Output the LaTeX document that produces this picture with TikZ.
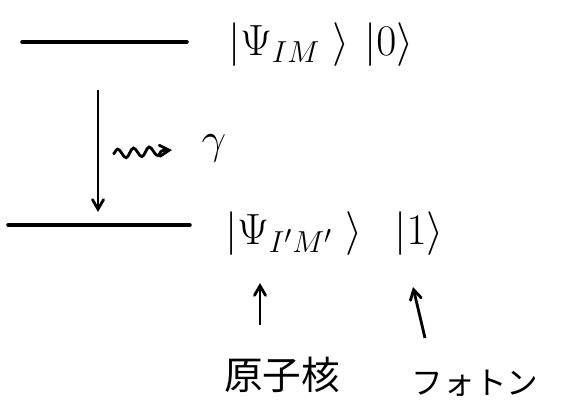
\documentclass[tikz,border=0pt]{standalone}
\usepackage{fontspec}
\usetikzlibrary{arrows}
\usetikzlibrary{decorations.pathmorphing}
\newfontfamily\jpfont{Noto Sans CJK JP}
\tikzset{
  lvl/.style = {line width=2pt, line cap=round},% energy level
  ket/.style = {inner sep=0pt, font=\fontsize{27}{32}\selectfont},
  jp_label/.style = {inner sep=0pt, font=\jpfont\fontsize{22}{26}\selectfont},
  down_arr/.style = {->, line width=1.6pt},
  photon/.style = {->, line width=1.6pt, decorate,
    decoration={snake, amplitude=2.6pt, segment length=9pt, post length=5pt}},% gamma emission
}
\begin{document}
\begin{tikzpicture}[>=angle 60, x=0.02cm, y=-0.02cm]
\useasboundingbox (0,0) rectangle (582,406);
% levels
\coordinate (top_l) at (22,42);
\coordinate (top_r) at (187,42);
\coordinate (bot_l) at (8,225);
\coordinate (bot_r) at (190,225);
\draw[lvl] (top_l) -- (top_r);
\draw[lvl] (bot_l) -- (bot_r);
% states
\node [ket, anchor=west] (psi_ini) at (228,45) {$|\Psi_{IM}\;\rangle$};
\node [ket, anchor=west] (ph_ini) at ([xshift=8]psi_ini.east) {$|0\rangle$};
\node [ket, anchor=west] (psi_fin) at (225,234) {$|\Psi_{I'M'}\;\rangle$};
\node [ket, anchor=west] (ph_fin) at ([xshift=18]psi_fin.east) {$|1\rangle$};
\node [ket, font=\fontsize{36}{40}\selectfont] (gam) at (214,148) {$\gamma$};
\node [jp_label] (nucl) at (282,375) {原子核};
\node [jp_label, font=\jpfont\fontsize{18}{22}\selectfont] (phot) at (475,383) {フォトン};
% transition
\coordinate (tr_a) at (98,90);
\coordinate (tr_b) at (98,212);
\draw[down_arr] (tr_a) -- (tr_b);
\coordinate (w_a) at (113,154);
\coordinate (w_b) at (172,150);
\draw[photon] (w_a) -- (w_b);
% pointers
\coordinate (nuc_a) at (260,325);
\coordinate (nuc_b) at (260,283);
\coordinate (pho_a) at (425,338);
\coordinate (pho_b) at (413,287);
\draw[down_arr] (nuc_a) -- (nuc_b);
\draw[down_arr] (pho_a) -- (pho_b);
\end{tikzpicture}
\end{document}
